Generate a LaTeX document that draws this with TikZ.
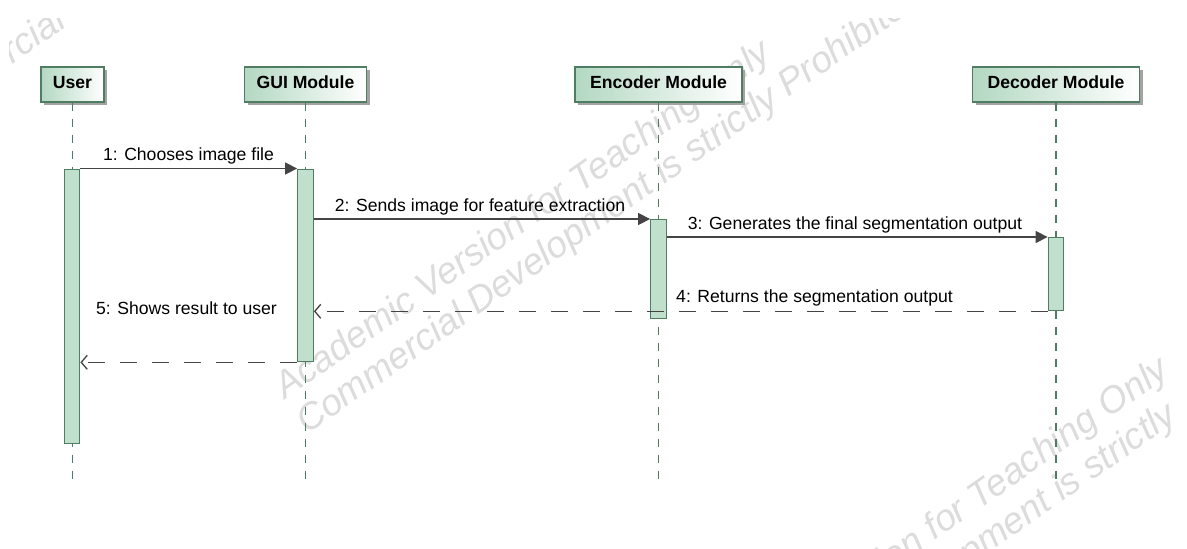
\documentclass[tikz,border=0pt]{standalone}
\usepackage{fontspec}
\setmainfont{Liberation Sans}
\usetikzlibrary{arrows.meta,shadows,calc}

\definecolor{umlborder}{HTML}{4F7D62}
\definecolor{headgreen}{HTML}{B3D8C2}
\definecolor{actgreen}{HTML}{C0E0CD}
\definecolor{msgline}{HTML}{444444}
\definecolor{shadowgray}{HTML}{A3A3A3}
\definecolor{wmgray}{HTML}{DCDCDC}

\begin{document}
\begin{tikzpicture}[x=1pt,y=-1pt,
  header/.style={draw=umlborder, line width=1.3pt, left color=headgreen, right color=white,
    minimum height=35pt, inner sep=0pt, text height=12.6pt, text depth=4.6pt,
    font=\bfseries\fontsize{17.6}{20}\selectfont,
    general shadow={fill=shadowgray, shadow xshift=3pt, shadow yshift=-3pt}},
  lifeline/.style={draw=umlborder, line width=1.2pt, dash pattern=on 8pt off 8pt},
  actbar/.style={draw=umlborder, fill=actgreen, line width=1.3pt, minimum width=15.5pt,
    inner sep=0pt, anchor=north},
  callmsg/.style={draw=msgline, line width=1.4pt, -{Triangle[length=12pt,width=12pt]}},
  replymsg/.style={draw=msgline, line width=1.4pt, dash pattern=on 17pt off 15pt,
    -{Straight Barb[length=6pt,width=14pt,line width=1.3pt]}},
  msglabel/.style={anchor=base, inner sep=0pt, font=\fontsize{17.6}{20}\selectfont},
  wm/.style={anchor=base west, inner sep=0pt, rotate=35, text=wmgray,
    font=\itshape\fontsize{37}{40}\selectfont}]

\useasboundingbox (0,0) rectangle (1187,549);
\fill[white] (0,0) rectangle (1187,549);

% tiled licence watermark, clipped to the diagram area
\begin{scope}
  \clip (9,18) rectangle (1175,549);
  \foreach \dx/\dy/\n in {-401/-296/c, 0/0/a, 398/317/b}{
    \node[wm] (wm\n one) at ({285+\dx},{400+\dy}) {Academic Version for Teaching Only};
    \node[wm] (wm\n two) at ({307+\dx},{435+\dy}) {Commercial Development is strictly Prohibited};
  }
\end{scope}

% participants
\node[header, minimum width=63pt]  (user) at (72.5,84.5)  {User};
\node[header, minimum width=122pt] (gui)  at (305.5,84.5) {GUI Module};
\node[header, minimum width=167pt] (enc)  at (658.5,84.5) {Encoder Module};
\node[header, minimum width=167pt] (dec)  at (1056,84.5)  {Decoder Module};

% lifelines
\coordinate (userend) at (72.5,483);
\coordinate (guiend)  at (305.5,483);
\coordinate (encend)  at (658.5,483);
\coordinate (decend)  at (1056,483);
\draw[lifeline] (user.south) -- (userend);
\draw[lifeline] (gui.south)  -- (guiend);
\draw[lifeline] (enc.south)  -- (encend);
\draw[lifeline] (dec.south)  -- (decend);

% activation bars
\node[actbar, minimum height=274.5pt] (useract) at (72,168.5) {};
\node[actbar, minimum height=192.5pt] (guiact)  at (305.5,168.5) {};
\node[actbar, minimum height=99pt]    (encact)  at (658.5,219) {};
\node[actbar, minimum height=73pt]    (decact)  at (1056,237) {};

% messages
\draw[callmsg] (useract.north east) -- (guiact.north west);
\draw[callmsg] (guiact.east |- encact.north) -- (encact.north west);
\draw[callmsg] (encact.east |- decact.north) -- (decact.north west);
\draw[replymsg] (decact.south west) -- (guiact.east |- decact.south);
\draw[replymsg] (guiact.south west) -- (useract.east |- guiact.south);

% message labels
\node[msglabel] (lab1) at (188.5,160) {1: Chooses image file};
\node[msglabel] (lab2) at (480,211)   {2: Sends image for feature extraction};
\node[msglabel] (lab3) at (855,229)   {3: Generates the final segmentation output};
\node[msglabel] (lab4) at (814.5,302) {4: Returns the segmentation output};
\node[msglabel] (lab5) at (186.5,314) {5: Shows result to user};
\end{tikzpicture}
\end{document}
